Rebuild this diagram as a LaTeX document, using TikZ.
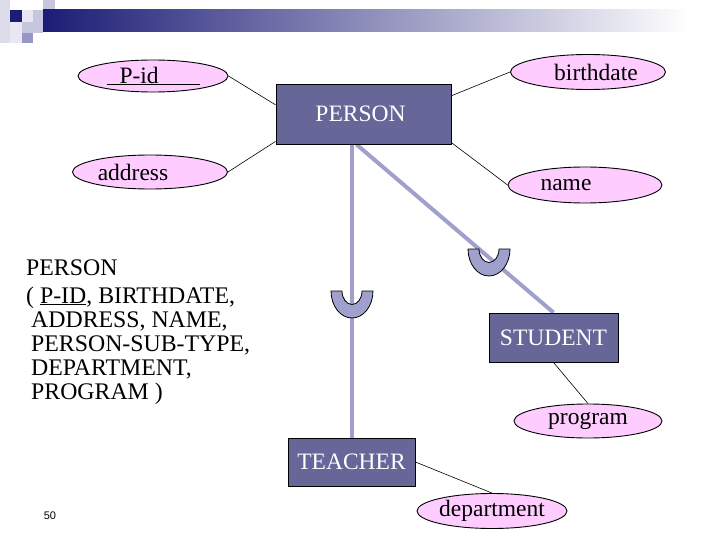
\documentclass[tikz,border=0pt]{standalone}
\usepackage{fontspec}
\setmainfont{Liberation Serif}
\newfontfamily\numfont{Liberation Sans}
\usetikzlibrary{shapes.geometric,calc,backgrounds}
\definecolor{attrfill}{RGB}{255,204,255}
\definecolor{entfill}{RGB}{102,102,153}
\definecolor{isacol}{RGB}{160,160,204}
\definecolor{hdnavy}{RGB}{28,28,118}
\definecolor{sqa}{RGB}{220,220,235}
\definecolor{sqb}{RGB}{232,232,242}
\definecolor{sqc}{RGB}{198,198,225}
\definecolor{sqd}{RGB}{150,150,200}
\newcommand\lblfont{\rmfamily\fontsize{23.5}{26}\selectfont}
\newcommand\leftfont{\rmfamily\fontsize{23.8}{24}\selectfont}
\tikzset{
  attr/.style={ellipse, draw=black, line width=0.9pt, fill=attrfill, inner sep=0pt, font=\lblfont},
  entity/.style={rectangle, draw=black, line width=0.9pt, fill=entfill, text=white, inner sep=0pt, font=\lblfont},
  link/.style={draw=black, line width=0.6pt},
  isa/.style={draw=isacol, line width=4pt},
  subsetmark/.pic={
    \draw[black, line width=0.8pt, fill=isacol]
      (-21,0) .. controls (-21,14.9) and (-11.6,27) .. (0,27)
      .. controls (11.6,27) and (21,14.9) .. (21,0)
      -- (10,0) .. controls (10,7.4) and (5.5,13.5) .. (0,13.5)
      .. controls (-5.5,13.5) and (-10,7.4) .. (-10,0) -- cycle;
  }
}
\begin{document}
\begin{tikzpicture}[x=1pt,y=-1pt]
\useasboundingbox (0,0) rectangle (720,540);
% header decoration
\fill[sqa] (0,0) rectangle (10,43);
\fill[sqb] (10,22) rectangle (22,43);
\fill[hdnavy] (10,10) rectangle (22,22);
\fill[sqb] (22,10) rectangle (33,22);
\fill[sqc] (33,10) rectangle (43,22);
\fill[sqc] (43,0) rectangle (55,10);
\fill[sqc] (22,22) rectangle (43,33);
\fill[sqd] (22,33) rectangle (33,43);
\shade[left color=hdnavy, right color=white] (43,10) rectangle (690,32);

% attributes
\node[attr, minimum width=150pt, minimum height=32pt] (pid) at (153,76) {\raisebox{-2pt}{\underline{\makebox[93pt][l]{\hspace{13pt}P-id}}}};
\node[attr, minimum width=155pt, minimum height=35pt] (birth) at (588,72) {\raisebox{-1pt}{\hspace{16pt}birthdate}};
\node[attr, minimum width=155pt, minimum height=34pt] (addr) at (150,172) {\raisebox{-2pt}{address\hspace{34pt}}};
\node[attr, minimum width=154pt, minimum height=36pt] (name) at (585,185) {\raisebox{-2pt}{name\hspace{38pt}}};
\node[attr, minimum width=148pt, minimum height=34pt] (prog) at (588,421) {\raisebox{-1pt}{program}};
\node[attr, minimum width=150pt, minimum height=35pt] (dept) at (492,511) {department};

% entities
\node[entity, minimum width=175pt, minimum height=60pt] (person) at (363.5,114) {\raisebox{-2pt}{PERSON\hspace{6pt}}};
\node[entity, minimum width=129pt, minimum height=49pt] (student) at (553.5,337.5) {STUDENT};
\node[entity, minimum width=127pt, minimum height=48pt] (teacher) at (351.5,462) {TEACHER\hspace{14pt}};

% is-a lines
\begin{scope}[on background layer]
\draw[isa] (teacher.north |- person.south) -- (teacher.north);
\draw[isa] ($(person.south west)!0.46!(person.south east)$) -- (student.north);
\end{scope}
\pic at (352,291) {subsetmark};
\pic at (489,249) {subsetmark};

% attribute links
\draw[link] (pid.east) -- ($(person.north west)!0.35!(person.south west)$);
\draw[link] (addr.east) -- ($(person.north west)!0.95!(person.south west)$);
\draw[link] (birth.west) -- ($(person.north east)!0.2!(person.south east)$);
\draw[link] (name.west) -- ($(person.north east)!0.97!(person.south east)$);
\draw[link] (student.south) -- (prog.north);
\draw[link] (teacher.east) -- (dept.north);

% schema text
\node[anchor=base west, inner sep=0pt, font=\leftfont] (schema) at (26,275) {\begin{tabular}[t]{@{}l@{}}PERSON\\[4pt]
( \underline{P-ID}, BIRTHDATE,\\
\hspace*{5pt}ADDRESS, NAME,\\
\hspace*{5pt}PERSON-SUB-TYPE,\\
\hspace*{5pt}DEPARTMENT,\\
\hspace*{5pt}PROGRAM )\end{tabular}};

\node[font=\numfont\fontsize{11}{13}\selectfont, inner sep=0pt] (pnum) at (50,516) {50};
\end{tikzpicture}
\end{document}
